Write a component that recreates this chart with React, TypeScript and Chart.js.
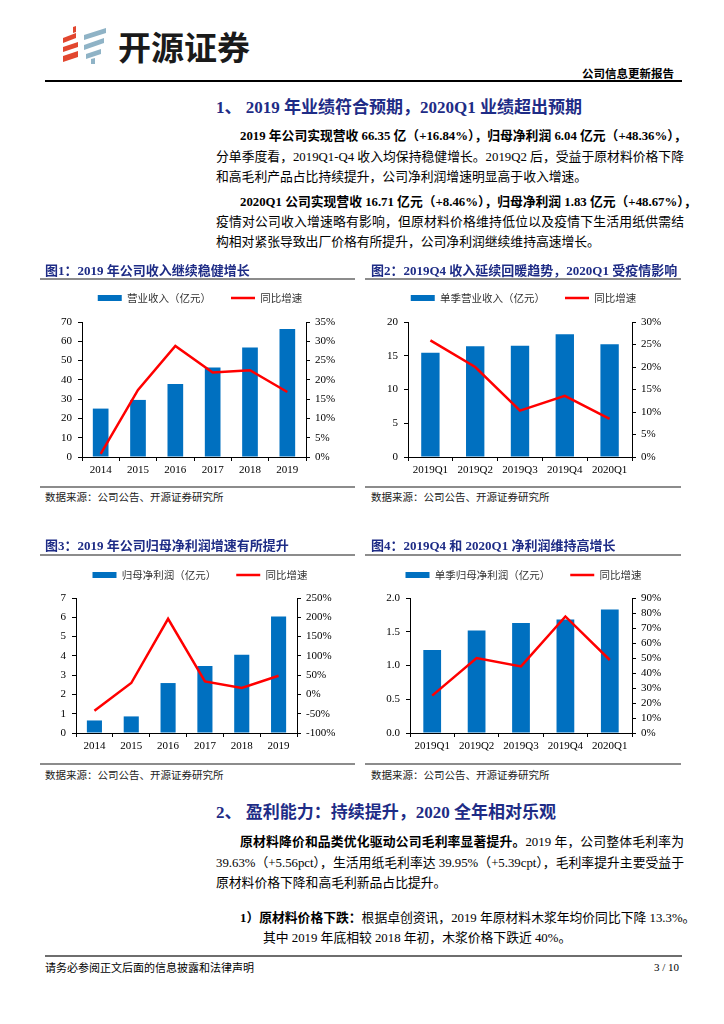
import React, { useEffect, useRef } from "react";
import { Chart, registerables } from "chart.js";

Chart.register(...registerables);

// ---------- data ----------
const years = ["2014", "2015", "2016", "2017", "2018", "2019"];
const quarters = ["2019Q1", "2019Q2", "2019Q3", "2019Q4", "2020Q1"];

const revenueAnnual = [25.1, 29.6, 37.9, 46.4, 56.8, 66.35];
const revenueAnnualYoY = [0.8, 17.4, 28.8, 21.9, 22.5, 16.84];

const revenueQuarter = [15.45, 16.4, 16.5, 18.2, 16.71];
const revenueQuarterYoY = [25.9, 20.0, 10.3, 13.6, 8.46];

const profitAnnual = [0.65, 0.86, 2.59, 3.47, 4.06, 6.04];
const profitAnnualYoY = [-42, 29.6, 196, 33.8, 16.7, 48.36];

const profitQuarter = [1.23, 1.52, 1.63, 1.68, 1.83];
const profitQuarterYoY = [24.9, 50.0, 44.4, 77.7, 48.67];

// axis ranges [min, max, step]
const axisRev1 = [0, 70, 10];
const axisRev1Pct = [0, 35, 5];
const axisRev2 = [0, 20, 5];
const axisRev2Pct = [0, 30, 5];
const axisProf1 = [0, 7, 1];
const axisProf1Pct = [-100, 250, 50];
const axisProf2 = [0, 2, 0.5];
const axisProf2Pct = [0, 90, 10];

const BLUE = "#0070C0";
const RED = "#FF0000";
const NAVY = "#1E2C86";
const SERIF = '"Liberation Serif", "Noto Sans CJK SC", serif';
const CJK = '"Noto Sans CJK SC", sans-serif';

type Geo = {
  L: number; T: number; W: number; H: number;
  x1: number; x2: number; y1: number; y2: number; legendY: number;
};

type ChartProps = {
  geo: Geo;
  labels: string[];
  bars: number[];
  growth: number[];
  barLabel: string;
  lineLabel: string;
  leftAxis: number[];
  rightAxis: number[];
  leftDecimals: number;
  barPct: number;
};

function ComboChart(p: ChartProps) {
  const ref = useRef<HTMLCanvasElement>(null);
  const g = p.geo;
  useEffect(() => {
    const LF = 10.5;
    const LP = 20;
    const padTop = g.legendY - g.T - (LP + LF / 2);
    const spacer = g.y1 - g.T - padTop - (LF + LP + 10);
    const tickFont = { family: '"Liberation Serif", serif', size: 11 };
    const chart = new Chart(ref.current as HTMLCanvasElement, {
      type: "bar",
      data: {
        labels: p.labels,
        datasets: [
          {
            type: "bar",
            label: p.barLabel,
            data: p.bars,
            backgroundColor: BLUE,
            borderWidth: 0,
            yAxisID: "y",
            order: 1,
            barPercentage: p.barPct,
            categoryPercentage: 1,
          } as any,
          {
            type: "line",
            label: p.lineLabel,
            data: p.growth,
            borderColor: RED,
            backgroundColor: RED,
            borderWidth: 2.5,
            pointRadius: 0,
            tension: 0,
            yAxisID: "y1",
            order: 0,
          } as any,
        ],
      },
      options: {
        animation: false,
        responsive: false,
        maintainAspectRatio: false,
        devicePixelRatio: 1,
        layout: { padding: { top: padTop, left: 0, right: 0, bottom: 0 } },
        plugins: {
          tooltip: { enabled: false },
          legend: {
            display: true,
            position: "top",
            labels: {
              usePointStyle: true,
              pointStyleWidth: 24,
              boxHeight: 6,
              padding: LP,
              color: "#333",
              font: { family: CJK, size: LF },
              sort: (a: any, b: any) => a.datasetIndex - b.datasetIndex,
              generateLabels: (chart: any) => {
                const items = (Chart.defaults.plugins.legend.labels as any).generateLabels(chart);
                return items.map((it: any) =>
                  it.datasetIndex === 0
                    ? { ...it, pointStyle: "rect", lineWidth: 0, fillStyle: BLUE, strokeStyle: BLUE }
                    : { ...it, pointStyle: "line", lineWidth: 2.5, fillStyle: RED, strokeStyle: RED }
                );
              },
            },
          },
        },
        scales: {
          x: {
            type: "category",
            offset: true,
            grid: {
              display: true,
              drawOnChartArea: false,
              drawTicks: true,
              tickLength: 4,
              color: "#000",
              offset: true,
            },
            border: { display: true, color: "#000", width: 1 },
            ticks: { font: tickFont, color: "#000", padding: 3, maxRotation: 0, autoSkip: false },
            afterFit: (s: any) => {
              s.height = g.T + g.H - g.y2;
            },
          },
          spacer: {
            type: "linear",
            axis: "x",
            position: "top",
            display: true,
            grid: { display: false, drawTicks: false },
            border: { display: false },
            ticks: { display: false },
            afterFit: (s: any) => {
              s.height = spacer;
            },
          },
          y: {
            type: "linear",
            position: "left",
            min: p.leftAxis[0],
            max: p.leftAxis[1],
            grid: { drawOnChartArea: false, drawTicks: true, tickLength: 4, color: "#000" },
            border: { display: true, color: "#000", width: 1 },
            ticks: {
              stepSize: p.leftAxis[2],
              autoSkip: false,
              font: tickFont,
              color: "#000",
              padding: 6,
              callback: (v: any) => Number(v).toFixed(p.leftDecimals),
            },
            afterFit: (s: any) => {
              s.width = g.x1 - g.L;
            },
          },
          y1: {
            type: "linear",
            position: "right",
            min: p.rightAxis[0],
            max: p.rightAxis[1],
            grid: { drawOnChartArea: false, drawTicks: true, tickLength: 4, color: "#000" },
            border: { display: true, color: "#000", width: 1 },
            ticks: {
              stepSize: p.rightAxis[2],
              autoSkip: false,
              font: tickFont,
              color: "#000",
              padding: 5,
              callback: (v: any) => `${Math.round(Number(v))}%`,
            },
            afterFit: (s: any) => {
              s.width = g.L + g.W - g.x2;
            },
          },
        } as any,
      },
    });
    return () => chart.destroy();
  }, []);
  return (
    <canvas
      ref={ref}
      width={g.W}
      height={g.H}
      style={{ position: "absolute", left: g.L, top: g.T, width: g.W, height: g.H }}
    />
  );
}

type TextProps = {
  x: number;
  y: number;
  size?: number;
  bold?: boolean;
  color?: string;
  width?: number;
  justify?: boolean;
  right?: boolean;
  family?: string;
  children: React.ReactNode;
};

function Txt(t: TextProps) {
  const size = t.size ?? 12.8;
  const lh = Math.round(size * 1.3);
  const style: React.CSSProperties = {
    position: "absolute",
    top: t.y - lh / 2,
    fontSize: size,
    lineHeight: `${lh}px`,
    fontWeight: t.bold ? 700 : 400,
    color: t.color ?? "#000",
    fontFamily: t.family ?? SERIF,
    whiteSpace: "nowrap",
  };
  if (t.right) {
    style.right = 724 - t.x;
    style.textAlign = "right";
  } else {
    style.left = t.x;
  }
  if (t.width) style.width = t.width;
  if (t.justify) {
    style.textAlign = "justify";
    (style as any).textAlignLast = "justify";
  }
  return <div style={style}>{t.children}</div>;
}

function HLine(props: { x1: number; x2: number; y: number; h?: number; color?: string }) {
  const h = props.h ?? 1;
  return (
    <div
      style={{
        position: "absolute",
        left: props.x1,
        top: props.y - h / 2,
        width: props.x2 - props.x1,
        height: h,
        background: props.color ?? "#000",
      }}
    />
  );
}

function Logo() {
  const red = "#E2472F";
  const blue = "#8FB3C6";
  return (
    <svg
      style={{ position: "absolute", left: 40, top: 20 }}
      width={80}
      height={50}
      viewBox="40 20 80 50"
    >
      <polygon points="73,27 76,26 76,32 73,33" fill={red} />
      <polygon points="63,38 76,33 76,38 63,43" fill={red} />
      <polygon points="63,47 78,42 78,47 63,52" fill={red} />
      <polygon points="63,56 78,51 78,57 63,62" fill={red} />
      <polygon points="84,35 106,28 106,33 84,40" fill={blue} />
      <polygon points="84,45 104,38 104,43 84,50" fill={blue} />
      <polygon points="86,54 101,49 101,54 86,59" fill={blue} />
      <polygon points="91,59 95,58 95,64 91,64" fill={blue} />
    </svg>
  );
}

const geo1: Geo = { L: 40, T: 270, W: 320, H: 214, x1: 82, x2: 306, y1: 322, y2: 457, legendY: 298 };
const geo2: Geo = { L: 365, T: 270, W: 317, H: 214, x1: 408, x2: 632, y1: 322, y2: 457, legendY: 298 };
const geo3: Geo = { L: 40, T: 548, W: 320, H: 212, x1: 76, x2: 297, y1: 598, y2: 733, legendY: 575 };
const geo4: Geo = { L: 365, T: 548, W: 317, H: 212, x1: 410, x2: 632, y1: 598, y2: 733, legendY: 575 };

export default function App() {
  const textL = 216;
  const textR = 684;
  const indentL = 240;
  return (
    <div
      style={{
        position: "absolute",
        left: 0,
        top: 0,
        width: 724,
        height: 1024,
        background: "#fff",
        overflow: "hidden",
      }}
    >
      {/* header */}
      <Logo />
      <Txt x={118} y={46} size={33} bold family={CJK} color="#1a1a1a">
        开源证券
      </Txt>
      <Txt x={674} y={73} size={11.5} bold right family={CJK}>
        公司信息更新报告
      </Txt>
      <HLine x1={45} x2={682} y={81} h={1.5} />

      {/* section 1 */}
      <Txt x={textL} y={108} size={17} bold color={NAVY}>
        1、 2019 年业绩符合预期，2020Q1 业绩超出预期
      </Txt>
      <Txt x={indentL} y={136} bold width={textR - indentL} justify>
        2019 年公司实现营收 66.35 亿（+16.84%），归母净利润 6.04 亿元（+48.36%），
      </Txt>
      <Txt x={textL} y={157} width={textR - textL} justify>
        分单季度看，2019Q1-Q4 收入均保持稳健增长。2019Q2 后，受益于原材料价格下降
      </Txt>
      <Txt x={textL} y={177}>和高毛利产品占比持续提升，公司净利润增速明显高于收入增速。</Txt>

      <Txt x={indentL} y={202} bold width={textR - indentL} justify>
        2020Q1 公司实现营收 16.71 亿元（+8.46%），归母净利润 1.83 亿元（+48.67%），
      </Txt>
      <Txt x={textL} y={222} width={textR - textL} justify>
        疫情对公司收入增速略有影响，但原材料价格维持低位以及疫情下生活用纸供需结
      </Txt>
      <Txt x={textL} y={242}>构相对紧张导致出厂价格有所提升，公司净利润继续维持高速增长。</Txt>

      {/* charts row 1 */}
      <ComboChart
        geo={geo1}
        labels={years}
        bars={revenueAnnual}
        growth={revenueAnnualYoY}
        barLabel="营业收入（亿元）"
        lineLabel="同比增速"
        leftAxis={axisRev1}
        rightAxis={axisRev1Pct}
        leftDecimals={0}
        barPct={0.42}
      />
      <ComboChart
        geo={geo2}
        labels={quarters}
        bars={revenueQuarter}
        growth={revenueQuarterYoY}
        barLabel="单季营业收入（亿元）"
        lineLabel="同比增速"
        leftAxis={axisRev2}
        rightAxis={axisRev2Pct}
        leftDecimals={0}
        barPct={0.41}
      />
      <Txt x={45} y={270} size={13} bold color={NAVY}>
        图1：2019 年公司收入继续稳健增长
      </Txt>
      <Txt x={371} y={270} size={13} bold color={NAVY}>
        图2：2019Q4 收入延续回暖趋势，2020Q1 受疫情影响
      </Txt>
      <HLine x1={40} x2={355} y={279} h={1.5} color="#8c8c8c" />
      <HLine x1={365} x2={681} y={279} h={1.5} color="#8c8c8c" />
      <HLine x1={40} x2={355} y={487} h={1.5} color="#8c8c8c" />
      <HLine x1={365} x2={681} y={487} h={1.5} color="#8c8c8c" />
      <Txt x={45} y={497} size={10.5} family={CJK} color="#222">
        数据来源：公司公告、开源证券研究所
      </Txt>
      <Txt x={371} y={497} size={10.5} family={CJK} color="#222">
        数据来源：公司公告、开源证券研究所
      </Txt>

      {/* charts row 2 */}
      <ComboChart
        geo={geo3}
        labels={years}
        bars={profitAnnual}
        growth={profitAnnualYoY}
        barLabel="归母净利润（亿元）"
        lineLabel="同比增速"
        leftAxis={axisProf1}
        rightAxis={axisProf1Pct}
        leftDecimals={0}
        barPct={0.41}
      />
      <ComboChart
        geo={geo4}
        labels={quarters}
        bars={profitQuarter}
        growth={profitQuarterYoY}
        barLabel="单季归母净利润（亿元）"
        lineLabel="同比增速"
        leftAxis={axisProf2}
        rightAxis={axisProf2Pct}
        leftDecimals={1}
        barPct={0.4}
      />
      <Txt x={45} y={545} size={13} bold color={NAVY}>
        图3：2019 年公司归母净利润增速有所提升
      </Txt>
      <Txt x={371} y={545} size={13} bold color={NAVY}>
        图4：2019Q4 和 2020Q1 净利润维持高增长
      </Txt>
      <HLine x1={40} x2={355} y={555} h={1.5} color="#8c8c8c" />
      <HLine x1={365} x2={681} y={555} h={1.5} color="#8c8c8c" />
      <HLine x1={40} x2={355} y={764} h={1.5} color="#8c8c8c" />
      <HLine x1={365} x2={681} y={764} h={1.5} color="#8c8c8c" />
      <Txt x={45} y={775} size={10.5} family={CJK} color="#222">
        数据来源：公司公告、开源证券研究所
      </Txt>
      <Txt x={371} y={775} size={10.5} family={CJK} color="#222">
        数据来源：公司公告、开源证券研究所
      </Txt>

      {/* section 2 */}
      <Txt x={textL} y={813} size={17} bold color={NAVY}>
        2、 盈利能力：持续提升，2020 全年相对乐观
      </Txt>
      <Txt x={indentL} y={842} width={textR - indentL} justify>
        <b>原材料降价和品类优化驱动公司毛利率显著提升。</b>2019 年，公司整体毛利率为
      </Txt>
      <Txt x={textL} y={863} width={textR - textL} justify>
        39.63%（+5.56pct），生活用纸毛利率达 39.95%（+5.39cpt），毛利率提升主要受益于
      </Txt>
      <Txt x={textL} y={883}>原材料价格下降和高毛利新品占比提升。</Txt>
      <Txt x={indentL} y={918} width={textR - indentL} justify>
        <b>1）原材料价格下跌：</b>根据卓创资讯，2019 年原材料木浆年均价同比下降 13.3%。
      </Txt>
      <Txt x={263} y={938}>其中 2019 年底相较 2018 年初，木浆价格下跌近 40%。</Txt>

      {/* footer */}
      <HLine x1={45} x2={682} y={956} h={2} color="#6e6e6e" />
      <Txt x={45} y={967} size={11} family={CJK}>
        请务必参阅正文后面的信息披露和法律声明
      </Txt>
      <Txt x={679} y={967} size={11} right>
        3 / 10
      </Txt>
    </div>
  );
}
